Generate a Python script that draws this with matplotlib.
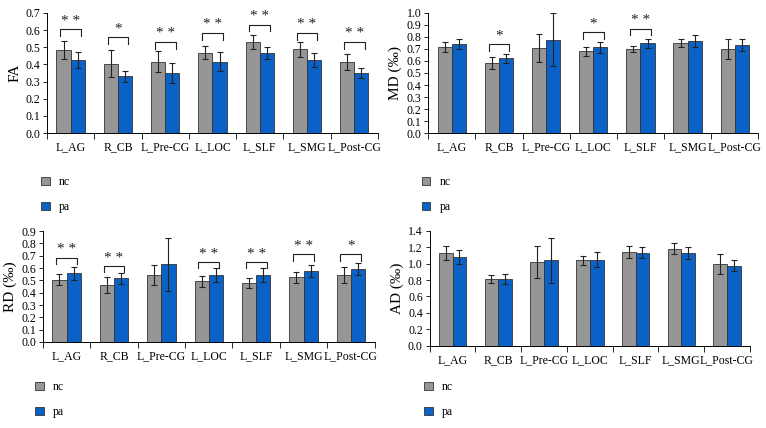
import matplotlib
matplotlib.use("Agg")
import matplotlib.pyplot as plt
import numpy as np

categories = ["L_AG", "R_CB", "L_Pre-CG", "L_LOC", "L_SLF", "L_SMG", "L_Post-CG"]

fa_nc = [0.485, 0.405, 0.416, 0.469, 0.530, 0.487, 0.413]
fa_nc_err = [0.053, 0.080, 0.063, 0.037, 0.043, 0.043, 0.047]
fa_pa = [0.426, 0.330, 0.350, 0.415, 0.467, 0.424, 0.350]
fa_pa_err = [0.045, 0.030, 0.060, 0.056, 0.033, 0.041, 0.027]
fa_sig = ["**", "*", "**", "**", "**", "**", "**"]
fa_bracket = [0.604, 0.557, 0.532, 0.583, 0.632, 0.583, 0.532]

md_nc = [0.715, 0.581, 0.707, 0.679, 0.701, 0.749, 0.701]
md_nc_err = [0.040, 0.050, 0.117, 0.036, 0.025, 0.036, 0.081]
md_pa = [0.740, 0.623, 0.777, 0.712, 0.746, 0.765, 0.732]
md_pa_err = [0.042, 0.036, 0.223, 0.047, 0.039, 0.047, 0.050]
md_sig = ["", "*", "", "*", "**", "", ""]
md_bracket = [0, 0.74, 0, 0.84, 0.869, 0, 0]

rd_nc = [0.505, 0.462, 0.546, 0.492, 0.478, 0.524, 0.546]
rd_nc_err = [0.046, 0.062, 0.080, 0.043, 0.038, 0.046, 0.064]
rd_pa = [0.556, 0.516, 0.632, 0.540, 0.540, 0.575, 0.594]
rd_pa_err = [0.049, 0.043, 0.215, 0.057, 0.057, 0.051, 0.051]
rd_sig = ["**", "**", "", "**", "**", "**", "*"]
rd_bracket = [0.685, 0.618, 0, 0.650, 0.650, 0.712, 0.712]

ad_nc = [1.124, 0.812, 1.019, 1.039, 1.140, 1.181, 0.994]
ad_nc_err = [0.085, 0.053, 0.194, 0.057, 0.069, 0.065, 0.126]
ad_pa = [1.080, 0.812, 1.039, 1.047, 1.132, 1.124, 0.974]
ad_pa_err = [0.085, 0.065, 0.276, 0.089, 0.065, 0.073, 0.065]
ad_sig = ["", "", "", "", "", "", ""]
ad_bracket = [0, 0, 0, 0, 0, 0, 0]

groups = ["nc", "pa"]

plt.rcParams['font.family'] = ['Liberation Serif', 'DejaVu Serif']

GRAY = "#969696"
BLUE = "#0a62c6"

fig = plt.figure(figsize=(7.66, 4.28), dpi=100)

panels = [
    dict(rect=[0.0614, 0.689, 0.432, 0.281], nc=fa_nc, nce=fa_nc_err, pa=fa_pa, pae=fa_pa_err,
         sig=fa_sig, br=fa_bracket, ymax=0.7, step=0.1, fmt="%.1f", ylabel="FA",
         leg=(0.048, 0.60)),
    dict(rect=[0.559, 0.689, 0.431, 0.281], nc=md_nc, nce=md_nc_err, pa=md_pa, pae=md_pa_err,
         sig=md_sig, br=md_bracket, ymax=1.0, step=0.1, fmt="%.1f", ylabel="MD (‰)",
         leg=(0.545, 0.60)),
    dict(rect=[0.056, 0.201, 0.433, 0.259], nc=rd_nc, nce=rd_nc_err, pa=rd_pa, pae=rd_pa_err,
         sig=rd_sig, br=rd_bracket, ymax=0.9, step=0.1, fmt="%.1f", ylabel="RD (‰)",
         leg=(0.040, 0.12)),
    dict(rect=[0.561, 0.192, 0.418, 0.269], nc=ad_nc, nce=ad_nc_err, pa=ad_pa, pae=ad_pa_err,
         sig=ad_sig, br=ad_bracket, ymax=1.4, step=0.2, fmt="%.1f", ylabel="AD (‰)",
         leg=(0.548, 0.12)),
]

x = np.arange(len(categories))
w = 0.3
for p in panels:
    ax = fig.add_axes(p["rect"])
    b1 = ax.bar(x - w / 2, p["nc"], w, color=GRAY, edgecolor="#333333", linewidth=0.6,
                yerr=p["nce"], capsize=2, error_kw=dict(elinewidth=0.8, capthick=0.8, ecolor="#222222"),
                label=groups[0])
    b2 = ax.bar(x + w / 2, p["pa"], w, color=BLUE, edgecolor="#333333", linewidth=0.6,
                yerr=p["pae"], capsize=2, error_kw=dict(elinewidth=0.8, capthick=0.8, ecolor="#222222"),
                label=groups[1])
    ymax = p["ymax"]
    ax.set_ylim(0, ymax)
    ax.set_xlim(-0.5, len(categories) - 0.5)
    ticks = np.arange(0, ymax + 1e-9, p["step"])
    ax.set_yticks(ticks)
    ax.set_yticklabels([p["fmt"] % t for t in ticks], fontsize=8.5)
    ax.set_xticks(x)
    ax.set_xticklabels(categories, fontsize=8.5)
    ax.tick_params(axis='x', length=0, pad=6)
    ax.set_xticks(np.arange(-0.5, len(categories) + 0.5, 1), minor=True)
    ax.tick_params(axis='x', which='minor', length=4, width=0.6, direction='out')
    ax.tick_params(axis='y', length=3, width=0.6, direction='out', pad=2)
    for s in ["top", "right"]:
        ax.spines[s].set_visible(False)
    ax.spines["left"].set_linewidth(0.7)
    ax.spines["bottom"].set_linewidth(0.7)
    ax.set_ylabel(p["ylabel"], fontsize=11, labelpad=3)
    leg_h = ymax * 0.057
    for i, (s, yb) in enumerate(zip(p["sig"], p["br"])):
        if not s:
            continue
        xl, xr = i - 0.22, i + 0.22
        ax.plot([xl, xl, xr, xr], [yb - leg_h, yb, yb, yb - leg_h], color="#222222", lw=0.8,
                clip_on=False)
        ax.text(i, yb + ymax * 0.012, " ".join(list(s)), ha="center", va="bottom",
                fontsize=11, color="#222222", clip_on=False)
    ax.legend(handles=[b1, b2], loc="upper left", bbox_to_anchor=p["leg"],
              bbox_transform=fig.transFigure, frameon=False, fontsize=8.5,
              handlelength=0.7, handleheight=0.7, labelspacing=1.1, handletextpad=0.8,
              borderaxespad=0)

fig.savefig("out.png", dpi=100)
